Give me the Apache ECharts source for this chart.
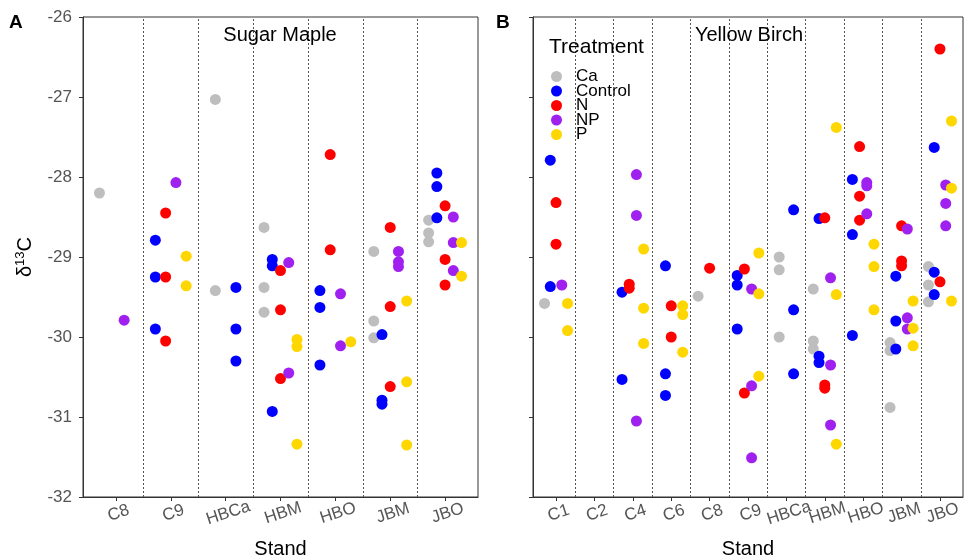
<!DOCTYPE html>
<html>
<head>
<meta charset="utf-8">
<script src="https://cdn.jsdelivr.net/npm/echarts@6/dist/echarts.min.js"></script>
<style>
  html, body { margin: 0; padding: 0; background: #fff; }
  #chart { width: 965px; height: 558px; }
</style>
</head>
<body>
<div id="chart"></div>
<script>
// stands on each panel
const standsMaple = ["C8", "C9", "HBCa", "HBM", "HBO", "JBM", "JBO"];
const standsBirch = ["C1", "C2", "C4", "C6", "C8", "C9", "HBCa", "HBM", "HBO", "JBM", "JBO"];
const treatments = ["Ca", "Control", "N", "NP", "P"];
const treatColors = ["#BEBEBE", "#0000FF", "#FF0000", "#A020F0", "#FFD700"];

// groups used for dodging inside each stand
const all5 = ["Ca", "Control", "N", "NP", "P"];
const noCa = ["Control", "N", "NP", "P"];
const dodgeMaple = { C8: all5, C9: noCa, HBCa: ["Ca", "Control"], HBM: all5, HBO: noCa, JBM: all5, JBO: all5 };
const dodgeBirch = { C1: all5, C2: all5, C4: noCa, C6: all5, C8: all5, C9: noCa, HBCa: ["Ca", "Control"], HBM: all5, HBO: noCa, JBM: all5, JBO: all5 };

// Sugar Maple d13C values, by treatment and stand
const mapleCa = { C8: [-28.2], HBCa: [-27.03, -29.42], HBM: [-28.63, -29.38, -29.69], JBM: [-28.93, -29.8, -30.01], JBO: [-28.54, -28.7, -28.81] };
const mapleControl = { C9: [-28.79, -29.25, -29.9], HBCa: [-29.38, -29.9, -30.3], HBM: [-29.03, -29.11, -30.93], HBO: [-29.42, -29.63, -30.35], JBM: [-29.97, -30.79, -30.84], JBO: [-27.95, -28.12, -28.51] };
const mapleN = { C9: [-28.45, -29.25, -30.05], HBM: [-29.17, -29.66, -30.52], HBO: [-27.72, -28.91], JBM: [-28.63, -29.62, -30.62], JBO: [-28.36, -29.03, -29.35] };
const mapleNP = { C8: [-29.79], C9: [-28.07], HBM: [-29.07, -30.45], HBO: [-29.46, -30.11], JBM: [-28.93, -29.06, -29.12], JBO: [-28.5, -28.82, -29.17] };
const mapleP = { C9: [-28.99, -29.36], HBM: [-30.03, -30.12, -31.34], HBO: [-30.06], JBM: [-29.55, -30.56, -31.35], JBO: [-28.82, -29.24] };

// Yellow Birch d13C values
const birchCa = { C1: [-29.58], C8: [-29.49], HBCa: [-29.0, -29.16, -30.0], HBM: [-29.4, -30.05, -30.15], JBM: [-30.07, -30.17, -30.88], JBO: [-29.12, -29.35, -29.56] };
const birchControl = { C1: [-27.79, -29.37], C4: [-29.44, -30.53], C6: [-29.11, -30.46, -30.73], C9: [-29.23, -29.35, -29.9], HBCa: [-28.41, -29.66, -30.46], HBM: [-28.52, -30.24, -30.32], HBO: [-28.03, -28.72, -29.98], JBM: [-29.24, -29.8, -30.15], JBO: [-27.63, -29.19, -29.47] };
const birchN = { C1: [-28.32, -28.84], C4: [-29.34, -29.39], C6: [-29.61, -30.0], C8: [-29.14], C9: [-29.15, -30.7], HBM: [-28.51, -30.6, -30.64], HBO: [-27.62, -28.24, -28.54], JBM: [-28.61, -29.05, -29.11], JBO: [-26.4, -29.31] };
const birchNP = { C1: [-29.35], C4: [-27.97, -28.48, -31.05], C9: [-29.4, -30.61, -31.51], HBM: [-29.26, -30.35, -31.1], HBO: [-28.07, -28.11, -28.46], JBM: [-28.65, -29.76, -29.9], JBO: [-28.1, -28.33, -28.61] };
const birchP = { C1: [-29.58, -29.92], C4: [-28.9, -29.64, -30.08], C6: [-29.61, -29.72, -30.19], C9: [-28.95, -29.46, -30.49], HBM: [-27.38, -29.47, -31.34], HBO: [-28.84, -29.12, -29.66], JBM: [-29.55, -29.89, -30.11], JBO: [-27.3, -28.14, -29.55] };

const mapleData = [mapleCa, mapleControl, mapleN, mapleNP, mapleP];
const birchData = [birchCa, birchControl, birchN, birchNP, birchP];

const dodgeWidth = 0.75;
const fontName = "Liberation Sans, Arial, sans-serif";

// position_dodge like ggplot
function dodgePoints(values, stands, dodge, trt) {
  let pts = [];
  Object.keys(values).forEach((stand) => {
    let groups = dodge[stand];
    let n = groups.length;
    let k = groups.indexOf(trt);
    let x = stands.indexOf(stand) + 1 + (k - (n - 1) / 2) * dodgeWidth / n;
    values[stand].forEach((v) => pts.push([x, v]));
  });
  return pts;
}

function range(n) {
  let out = [];
  for (let i = 1; i <= n; i++) out.push(i);
  return out;
}

function dividers(n) {
  let out = [];
  for (let i = 1; i < n; i++) out.push({ xAxis: i + 0.5 });
  return out;
}

function xAxisFor(gridIndex, stands) {
  return {
    type: "value",
    gridIndex: gridIndex,
    min: 0.4,
    max: stands.length + 0.6,
    splitLine: { show: false },
    axisLine: { onZero: false, lineStyle: { color: "#333", width: 1 } },
    axisTick: { customValues: range(stands.length), length: 4, lineStyle: { color: "#333" } },
    axisLabel: {
      customValues: range(stands.length),
      formatter: (v) => stands[Math.round(v) - 1],
      rotate: 18,
      align: "center",
      verticalAlign: "top",
      margin: 8,
      fontSize: 17,
      color: "#555",
      fontFamily: fontName,
    },
    name: "Stand",
    nameLocation: "middle",
    nameGap: 42,
    nameTextStyle: { fontSize: 20, color: "#000", fontFamily: fontName },
  };
}

function yAxisFor(gridIndex, showLabels) {
  let axis = {
    type: "value",
    gridIndex: gridIndex,
    min: -32,
    max: -26,
    interval: 1,
    splitLine: { show: false },
    axisLine: { show: true, lineStyle: { color: "#333", width: 1 } },
    axisTick: { show: true, length: 4, lineStyle: { color: "#333" } },
    axisLabel: { show: showLabels, fontSize: 17, color: "#555", margin: 11, fontFamily: fontName },
  };
  if (showLabels) {
    axis.name = "{d|δ}{s|13}{c|C}";
    axis.nameLocation = "middle";
    axis.nameGap = 46;
    axis.nameRotate = 90;
    axis.nameTextStyle = {
      rich: {
        d: { fontSize: 20, color: "#000", fontFamily: fontName },
        s: { fontSize: 13, color: "#000", fontFamily: fontName, padding: [0, 0, 10, 0] },
        c: { fontSize: 20, color: "#000", fontFamily: fontName },
      },
    };
  }
  return axis;
}

let series = [];
[
  [mapleData, standsMaple, dodgeMaple, 0],
  [birchData, standsBirch, dodgeBirch, 1],
].forEach(([dataSet, stands, dodge, idx]) => {
  // dotted separators between stands
  series.push({
    type: "scatter",
    name: "sep" + idx,
    xAxisIndex: idx,
    yAxisIndex: idx,
    data: [],
    z: 1,
    markLine: {
      silent: true,
      symbol: ["none", "none"],
      label: { show: false },
      animation: false,
      lineStyle: { color: "#555", width: 1, type: [2, 2] },
      data: dividers(stands.length),
    },
  });
  treatments.forEach((trt, t) => {
    series.push({
      type: "scatter",
      name: trt,
      xAxisIndex: idx,
      yAxisIndex: idx,
      symbol: "circle",
      symbolSize: 11,
      itemStyle: { color: treatColors[t], opacity: 1 },
      z: 3,
      data: dodgePoints(dataSet[t], stands, dodge, trt),
    });
  });
});

let myCharts = echarts.init(document.getElementById("chart"), null, { renderer: "canvas" });
let option = {
  animation: false,
  backgroundColor: "#fff",
  color: treatColors,
  title: [
    { text: "A", left: 9, top: 13, padding: 0, textStyle: { fontSize: 19, fontWeight: "bold", color: "#000", fontFamily: fontName } },
    { text: "B", left: 496, top: 13, padding: 0, textStyle: { fontSize: 19, fontWeight: "bold", color: "#000", fontFamily: fontName } },
    { text: "Sugar Maple", left: 280, top: 25, padding: 0, textAlign: "center", textStyle: { fontSize: 20, fontWeight: "normal", color: "#000", fontFamily: fontName } },
    { text: "Yellow Birch", left: 749, top: 25, padding: 0, textAlign: "center", textStyle: { fontSize: 20, fontWeight: "normal", color: "#000", fontFamily: fontName } },
    { text: "Treatment", left: 549, top: 37, padding: 0, textStyle: { fontSize: 21, fontWeight: "normal", color: "#000", fontFamily: fontName } },
  ],
  legend: {
    data: treatments,
    orient: "vertical",
    left: 535,
    top: 25,
    padding: [43, 40, 11, 16],
    backgroundColor: "#fff",
    itemWidth: 11,
    itemHeight: 11,
    itemGap: -2.5,
    icon: "circle",
    textStyle: { fontSize: 17, color: "#000", fontFamily: fontName, padding: [0, 0, 0, 9] },
  },
  grid: [
    { left: 83, top: 17, width: 395, height: 480, outerBoundsMode: "none", show: true, borderColor: "#333", borderWidth: 1, backgroundColor: "transparent" },
    { left: 533, top: 17, width: 430, height: 480, outerBoundsMode: "none", show: true, borderColor: "#333", borderWidth: 1, backgroundColor: "transparent" },
  ],
  xAxis: [xAxisFor(0, standsMaple), xAxisFor(1, standsBirch)],
  yAxis: [yAxisFor(0, true), yAxisFor(1, false)],
  series: series,
};
myCharts.setOption(option);
</script>
</body>
</html>
